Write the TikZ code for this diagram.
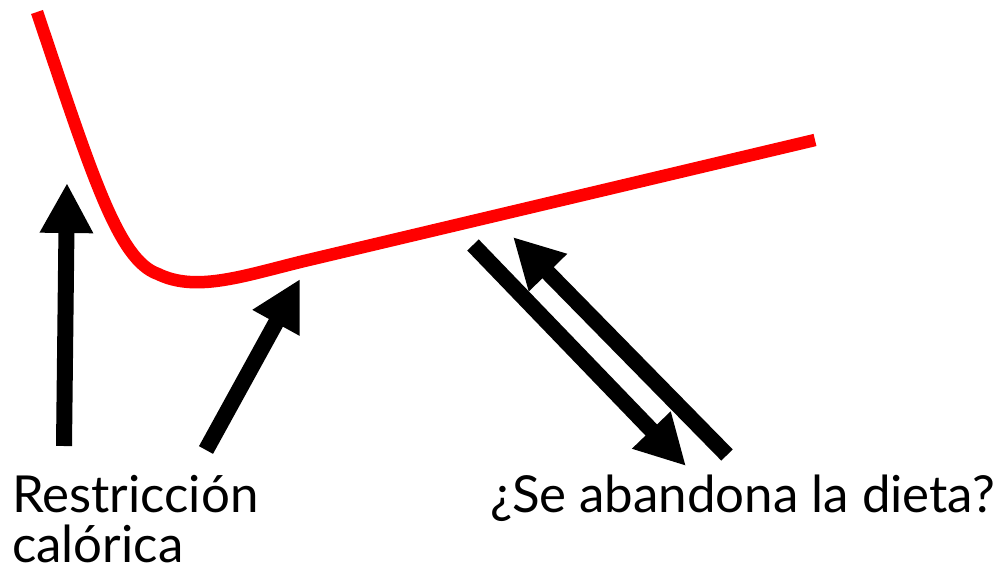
\documentclass[tikz,border=0pt]{standalone}
\usepackage{fontspec}
\setmainfont{Lato}
\usetikzlibrary{arrows.meta}
\begin{document}
\begin{tikzpicture}[x=1pt,y=-1pt,
  curve/.style={draw={rgb,255:red,255;green,0;blue,0},line width=12.5pt},
  bigarrow/.style={draw=black,line width=16pt,-{Triangle[width=50pt,length=50pt]}},
  lbl/.style={anchor=base west,inner sep=0pt,font=\fontsize{51}{50}\selectfont,align=left}]
\useasboundingbox (0,0) rectangle (1006,572);
% red curve
\coordinate (c0) at (37,12);
\coordinate (c1) at (158,274);
\coordinate (c2) at (300,262);
\coordinate (c3) at (815,140);
\draw[curve] (c0) .. controls (92,175) and (118,260) .. (c1)
  .. controls (195,292) and (240,277) .. (c2) -- (c3);
% arrows
\coordinate (a1s) at (64,446);
\coordinate (a1e) at (67,183);
\coordinate (a2s) at (206,450);
\coordinate (a2e) at (300,279);
\coordinate (a3s) at (473,245);
\coordinate (a3e) at (686,466);
\coordinate (a4s) at (727,455);
\coordinate (a4e) at (513,237);
\draw[bigarrow] (a1s) -- (a1e);
\draw[bigarrow] (a2s) -- (a2e);
\draw[bigarrow] (a3s) -- (a3e);
\draw[bigarrow] (a4s) -- (a4e);
% labels
\node[lbl] (t1) at (12,562) {Restricción\\calórica};
\node[lbl] (t2) at (490,512) {¿Se abandona la dieta?};
\end{tikzpicture}
\end{document}
